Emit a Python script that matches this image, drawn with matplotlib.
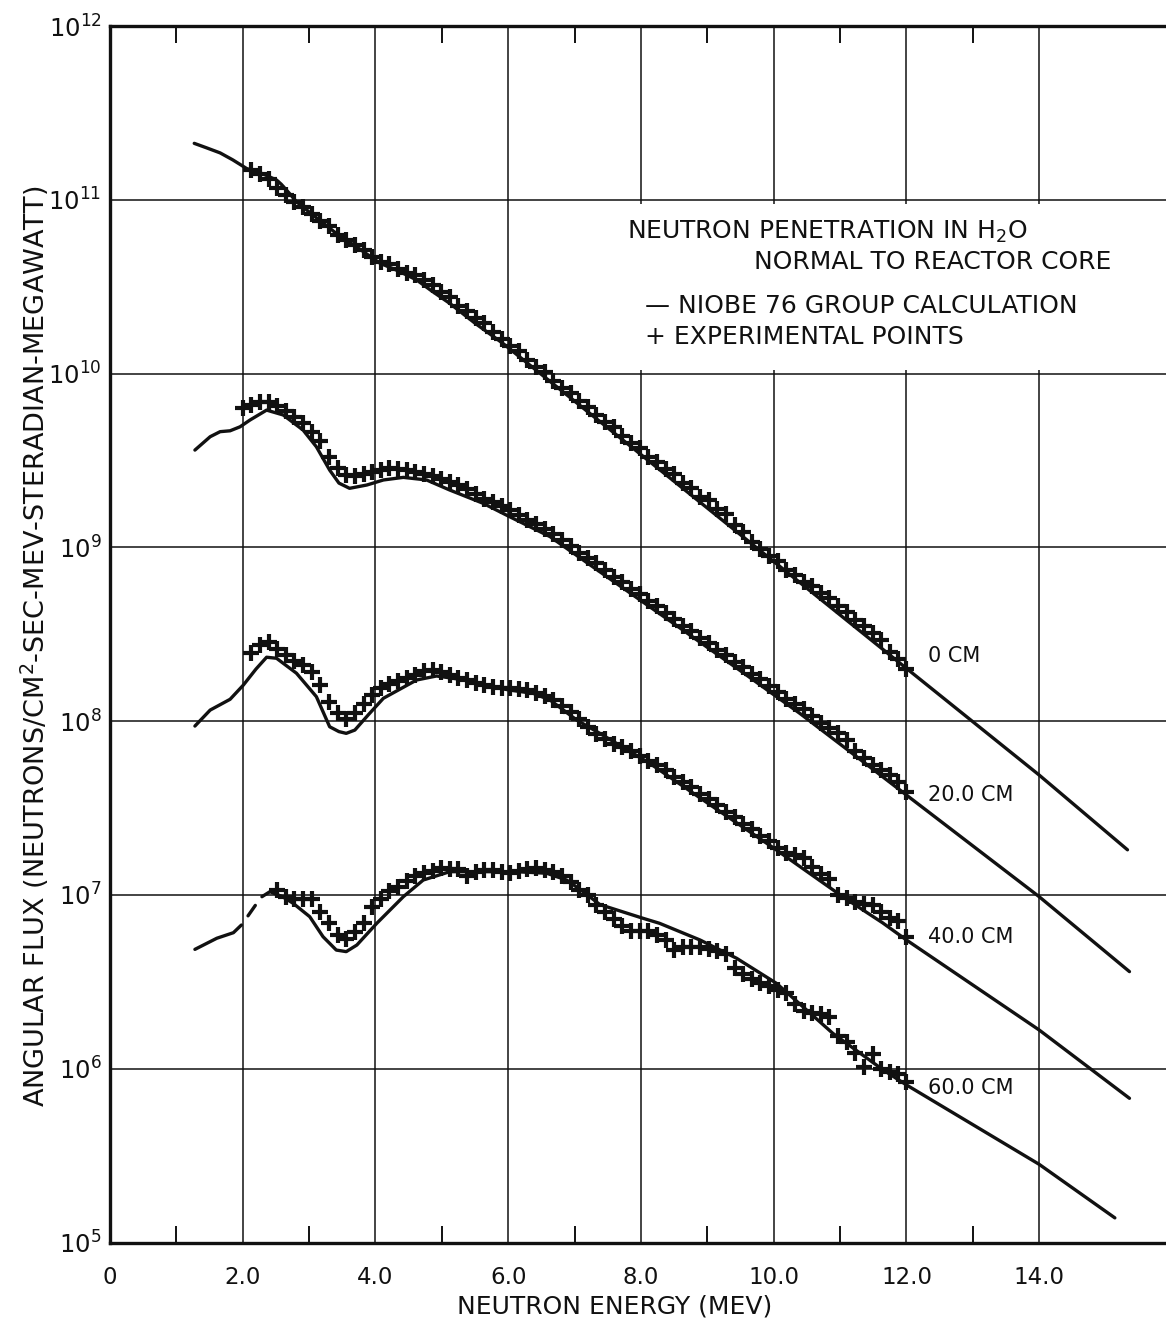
import numpy as np
import matplotlib
matplotlib.use("Agg")
import matplotlib.pyplot as plt
from matplotlib.patches import Rectangle
from matplotlib.ticker import FixedLocator, NullLocator

# NIOBE 76-group calculation, log10 of angular flux against neutron energy (MeV)
calc_0cm_energy = [1.27, 1.45, 1.66, 1.85, 2.06, 2.30, 2.51, 2.58, 2.66, 2.72, 2.81,
                   3.10, 3.41, 3.75, 4.07, 4.35, 4.62, 4.85, 5.12, 5.50, 5.92, 8.0,
                   10.0, 12.0, 14.0, 15.33]
calc_0cm_log = [11.325, 11.30, 11.27, 11.23, 11.18, 11.15, 11.114, 11.09, 11.056, 11.03,
                10.989, 10.90, 10.807, 10.72, 10.635, 10.59, 10.539, 10.475, 10.404,
                10.29, 10.174, 9.534, 8.919, 8.304, 7.69, 7.26]

calc_20cm_energy = [1.28, 1.51, 1.66, 1.81, 1.96, 2.11, 2.36, 2.61, 2.91, 3.11, 3.31,
                    3.45, 3.61, 3.87, 4.12, 4.42, 4.77, 5.12, 5.62, 6.02, 6.63, 7.38,
                    8.5, 9.5, 10.39, 11.2, 12.0, 14.0, 15.36]
calc_20cm_log = [9.56, 9.637, 9.666, 9.671, 9.694, 9.733, 9.79, 9.762, 9.675, 9.579,
                 9.445, 9.37, 9.34, 9.359, 9.388, 9.403, 9.388, 9.33, 9.254, 9.177,
                 9.062, 8.86, 8.56, 8.29, 8.046, 7.81, 7.575, 6.99, 6.559]

calc_40cm_energy = [1.28, 1.51, 1.81, 2.01, 2.2, 2.36, 2.51, 2.81, 3.11, 3.31, 3.45,
                    3.56, 3.69, 3.9, 4.12, 4.62, 4.92, 5.3, 5.62, 6.02, 6.38, 6.63,
                    7.03, 7.38, 7.88, 8.13, 9.0, 10.0, 11.04, 11.64, 12.0, 14.0,
                    15.36]
calc_40cm_log = [7.972, 8.064, 8.126, 8.208, 8.30, 8.368, 8.362, 8.276, 8.141, 7.968,
                 7.94, 7.93, 7.949, 8.04, 8.132, 8.237, 8.26, 8.24, 8.208, 8.179, 8.16,
                 8.122, 8.007, 7.93, 7.815, 7.758, 7.53, 7.27, 6.99, 6.84, 6.741,
                 6.223, 5.83]

# the 60 cm curve is broken twice just above 2 MeV (nan = pen lifted)
calc_60cm_energy = [1.28, 1.61, 1.86, 1.98, 2.03, 2.08, 2.19, 2.24, 2.29, 2.41, 2.6,
                    2.76, 3.01, 3.21, 3.41, 3.56, 3.72, 4.02, 4.42, 4.72, 5.12, 5.62,
                    6.12, 6.58, 6.88, 7.13, 7.38, 8.03, 8.28, 8.89, 9.44, 10.04, 10.44,
                    10.89, 11.65, 12.0, 14.0, 15.14]
calc_60cm_log = [6.687, 6.751, 6.783, 6.827, np.nan, 6.88, 6.94, np.nan, 6.99, 7.019,
                 6.99, 6.952, 6.875, 6.76, 6.683, 6.674, 6.712, 6.837, 6.99, 7.086,
                 7.134, 7.134, 7.134, 7.125, 7.086, 7.019, 6.945, 6.866, 6.837, 6.741,
                 6.636, 6.492, 6.357, 6.204, 5.993, 5.907, 5.45, 5.142]

# measured points (one energy list shared by all four depths)
exp_energy = [2.00, 2.13, 2.26, 2.39, 2.52, 2.65, 2.78, 2.91, 3.04, 3.17, 3.30, 3.43,
              3.56, 3.69, 3.82, 3.95, 4.08, 4.21, 4.34, 4.47, 4.60, 4.73, 4.86, 4.99,
              5.12, 5.25, 5.38, 5.51, 5.64, 5.77, 5.90, 6.03, 6.16, 6.29, 6.42, 6.55,
              6.68, 6.81, 6.94, 7.07, 7.20, 7.33, 7.46, 7.59, 7.72, 7.85, 7.98, 8.11,
              8.24, 8.37, 8.50, 8.63, 8.76, 8.89, 9.02, 9.15, 9.28, 9.41, 9.54, 9.67,
              9.80, 9.93, 10.06, 10.19, 10.32, 10.45, 10.58, 10.71, 10.84, 10.97,
              11.10, 11.23, 11.36, 11.49, 11.62, 11.75, 11.88, 12.00]

exp_0cm_log = [np.nan, 11.17, 11.15, 11.12, 11.07, 11.03, 10.99, 10.96, 10.92, 10.88,
               10.85, 10.80, 10.77, 10.74, 10.71, 10.67, 10.64, 10.63, 10.60, 10.58,
               10.57, 10.54, 10.51, 10.47, 10.44, 10.39, 10.36, 10.32, 10.29, 10.24,
               10.20, 10.16, 10.13, 10.08, 10.04, 10.01, 9.96, 9.92, 9.89, 9.84, 9.81,
               9.76, 9.72, 9.69, 9.64, 9.60, 9.57, 9.52, 9.49, 9.45, 9.42, 9.37, 9.34,
               9.29, 9.27, 9.22, 9.19, 9.13, 9.09, 9.03, 8.99, 8.95, 8.92, 8.87, 8.84,
               8.80, 8.78, 8.74, 8.71, 8.66, 8.63, 8.58, 8.55, 8.51, 8.47, 8.40, 8.36,
               8.30]

exp_20cm_log = [9.80, 9.82, 9.835, 9.835, 9.815, 9.785, 9.75, 9.714, 9.665, 9.61, 9.52,
                9.455, 9.415, 9.41, 9.42, 9.434, 9.446, 9.455, 9.45, 9.443, 9.435,
                9.425, 9.408, 9.392, 9.375, 9.357, 9.336, 9.31, 9.28, 9.26, 9.24,
                9.216, 9.186, 9.16, 9.135, 9.106, 9.075, 9.04, 9.006, 8.97, 8.94,
                8.909, 8.87, 8.83, 8.80, 8.76, 8.73, 8.69, 8.66, 8.62, 8.59, 8.55,
                8.52, 8.48, 8.45, 8.41, 8.38, 8.34, 8.31, 8.27, 8.24, 8.20, 8.17, 8.13,
                8.10, 8.07, 8.03, 7.99, 7.96, 7.93, 7.89, 7.83, 7.79, 7.75, 7.72, 7.69,
                7.65, 7.59]

exp_40cm_log = [np.nan, 8.39, 8.438, 8.455, 8.416, 8.38, 8.348, 8.323, 8.285, 8.21,
                8.11, 8.045, 8.015, 8.045, 8.10, 8.15, 8.193, 8.214, 8.23, 8.249,
                8.268, 8.286, 8.292, 8.285, 8.266, 8.251, 8.236, 8.221, 8.206, 8.197,
                8.189, 8.189, 8.186, 8.177, 8.164, 8.144, 8.12, 8.09, 8.053, 8.01,
                7.966, 7.926, 7.896, 7.87, 7.85, 7.83, 7.80, 7.77, 7.75, 7.72, 7.68,
                7.65, 7.62, 7.58, 7.55, 7.52, 7.48, 7.45, 7.41, 7.38, 7.34, 7.31, 7.27,
                7.24, 7.23, 7.21, 7.16, 7.12, 7.09, 7.00, 6.98, 6.96, 6.95, 6.94, 6.90,
                6.87, 6.85, 6.76]

exp_60cm_log = [np.nan, np.nan, np.nan, np.nan, 7.03, 6.99, 6.975, 6.975, 6.975, 6.90,
                6.84, 6.77, 6.745, 6.785, 6.84, 6.93, 6.975, 7.02, 7.045, 7.08, 7.11,
                7.125, 7.14, 7.155, 7.15, 7.15, 7.11, 7.13, 7.144, 7.144, 7.135, 7.125,
                7.14, 7.148, 7.154, 7.146, 7.13, 7.11, 7.075, 7.03, 7.00, 6.945, 6.90,
                6.86, 6.82, 6.79, 6.79, 6.79, 6.77, 6.74, 6.683, 6.70, 6.703, 6.703,
                6.69, 6.68, 6.66, 6.58, 6.545, 6.515, 6.495, 6.475, 6.455, 6.434, 6.37,
                6.335, 6.32, 6.315, 6.30, 6.19, 6.155, 6.09, 6.01, 6.085, 6.00, 5.98,
                5.97, 5.926]

depth_labels = ["0 CM", "20.0 CM", "40.0 CM", "60.0 CM"]
depth_label_log = [8.375, 7.575, 6.758, 5.89]

energy_ticks = [0, 2, 4, 6, 8, 10, 12, 14]
energy_tick_labels = ["0", "2.0", "4.0", "6.0", "8.0", "10.0", "12.0", "14.0"]
flux_exponents = [5, 6, 7, 8, 9, 10, 11, 12]

plt.rcParams["font.family"] = ["DejaVu Sans"]
plt.rcParams["mathtext.fontset"] = "dejavusans"
ink = "#111111"

fig = plt.figure(figsize=(11.66, 13.22), dpi=100)
ax = fig.add_axes([0.0943, 0.0601, 0.9108, 0.9202])

ax.set_yscale("log")
ax.set_xlim(0, 16)
ax.set_ylim(1e5, 1e12)

# axes frame, grid and ticks
ax.xaxis.set_major_locator(FixedLocator(energy_ticks))
ax.set_xticklabels(energy_tick_labels)
ax.xaxis.set_minor_locator(FixedLocator([1, 3, 5, 7, 9, 11, 13]))
ax.yaxis.set_major_locator(FixedLocator([10.0 ** p for p in flux_exponents]))
ax.set_yticklabels([r"$10^{%d}$" % p for p in flux_exponents])
ax.yaxis.set_minor_locator(NullLocator())

ax.tick_params(axis="x", which="major", length=0, pad=17, labelsize=16.5,
               colors=ink)
ax.tick_params(axis="x", which="minor", direction="in", length=12, width=1.4,
               top=True, bottom=True, color=ink)
ax.tick_params(axis="y", which="major", length=0, pad=6, labelsize=17.5,
               colors=ink)

for side in ax.spines.values():
    side.set_linewidth(2.4)
    side.set_color(ink)

ax.set_axisbelow(True)
ax.grid(True, which="major", color=ink, linewidth=1.1)

# blank panel behind the key text
ax.add_patch(Rectangle((7.0, 1.05e10), 9.5, 0.95e11 - 1.05e10,
                       facecolor="white", edgecolor="none", zorder=1))

# calculated curves
for energy, logflux in [(calc_0cm_energy, calc_0cm_log),
                        (calc_20cm_energy, calc_20cm_log),
                        (calc_40cm_energy, calc_40cm_log),
                        (calc_60cm_energy, calc_60cm_log)]:
    ax.plot(energy, 10.0 ** np.array(logflux), color=ink, linewidth=2.4,
            solid_capstyle="round", solid_joinstyle="round", zorder=3)

# experimental points
for logflux in [exp_0cm_log, exp_20cm_log, exp_40cm_log, exp_60cm_log]:
    ax.plot(exp_energy, 10.0 ** np.array(logflux), linestyle="none", marker="+",
            markersize=12, markeredgewidth=3.0, color=ink, zorder=4)

# depth labels at the end of each set of points
for label, logy in zip(depth_labels, depth_label_log):
    ax.text(12.32, 10.0 ** logy, label, fontsize=15, color=ink,
            ha="left", va="center", zorder=5)

# key
key_size = 18
ax.text(7.79, 10.0 ** 10.815, r"NEUTRON PENETRATION IN H$_2$O", fontsize=key_size,
        color=ink, ha="left", va="center", zorder=5)
ax.text(15.09, 10.0 ** 10.642, "NORMAL TO REACTOR CORE", fontsize=key_size,
        color=ink, ha="right", va="center", zorder=5)
ax.text(8.06, 10.0 ** 10.389, "\u2014 NIOBE 76 GROUP CALCULATION",
        fontsize=key_size, color=ink, ha="left", va="center", zorder=5)
ax.text(8.06, 10.0 ** 10.21, "+ EXPERIMENTAL POINTS", fontsize=key_size,
        color=ink, ha="left", va="center", zorder=5)

fig.text(0.527, 0.012, "NEUTRON ENERGY (MEV)", fontsize=18, color=ink,
         ha="center", va="center")
fig.text(0.030, 0.511,
         r"ANGULAR FLUX (NEUTRONS/CM$^2$-SEC-MEV-STERADIAN-MEGAWATT)",
         fontsize=19.5, color=ink, rotation=90, ha="center", va="center")

fig.savefig("out.png", dpi=100, facecolor="white")
